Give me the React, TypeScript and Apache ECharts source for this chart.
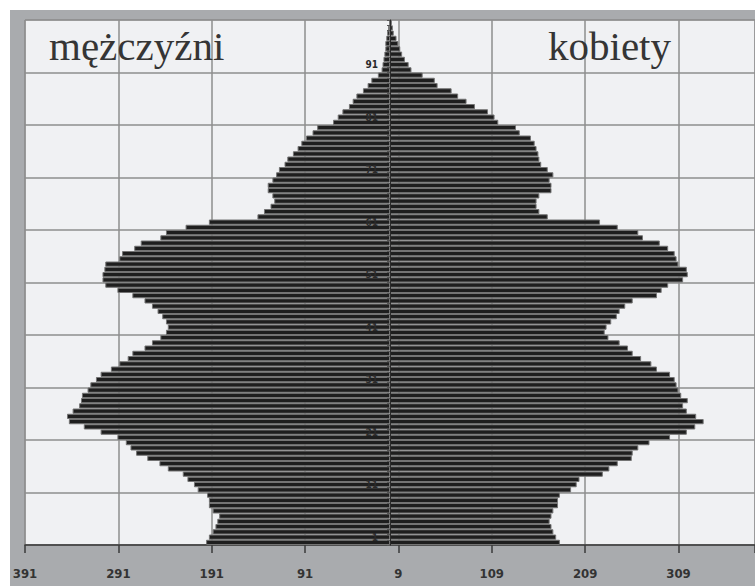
import { useEffect, useRef } from 'react';
import * as echarts from 'echarts';

// Ages 0..99 (bottom to top)
const AGES: string[] = Array.from({ length: 100 }, (_, i) => String(i));

// Men (left side), ages 0..99
const MEN: number[] = [
  197, 194, 190, 187, 185, 183, 190, 194, 194, 196,
  206, 210, 217, 222, 238, 247, 260, 272, 278, 283,
  292, 310, 328, 344, 346, 340, 333, 331, 330, 324,
  321, 315, 310, 299, 290, 281, 276, 263, 255, 246,
  240, 238, 240, 244, 249, 255, 263, 276, 292, 305,
  308, 308, 306, 305, 290, 287, 274, 267, 246, 240,
  219, 194, 142, 135, 128, 124, 126, 131, 131, 126,
  122, 119, 113, 110, 104, 99, 95, 90, 83, 78,
  61, 56, 51, 44, 40, 36, 29, 24, 20, 13,
  9, 8, 7, 6, 5, 5, 4, 3, 2, 1,
];

// Women (right side), ages 0..99
const WOMEN: number[] = [
  182, 178, 175, 173, 171, 173, 175, 180, 180, 182,
  194, 200, 203, 228, 235, 244, 259, 260, 266, 278,
  300, 318, 327, 336, 328, 318, 314, 319, 312, 309,
  307, 305, 300, 286, 280, 269, 260, 255, 246, 234,
  230, 232, 237, 243, 246, 252, 260, 286, 291, 298,
  314, 319, 318, 309, 307, 305, 298, 289, 271, 266,
  244, 225, 169, 160, 157, 157, 160, 173, 173, 171,
  175, 169, 162, 160, 159, 157, 155, 151, 139, 135,
  116, 112, 105, 91, 82, 73, 66, 51, 48, 35,
  23, 20, 16, 13, 11, 9, 7, 4, 3, 2,
];

// Bottom tick labels, left to right
const X_TICK_LABELS: string[] = ['391', '291', '191', '91', '9', '109', '209', '309'];

const LEFT_TITLE = 'mężczyźni';
const RIGHT_TITLE = 'kobiety';

export default function App() {
  const ref = useRef<HTMLDivElement>(null);

  useEffect(() => {
    document.body.style.margin = '0';
    const chart = echarts.init(ref.current!, null, { renderer: 'svg' });
    const gridColor = '#8e8e8e';
    const barStyle = { color: '#1e1e1e', borderColor: '#747474', borderWidth: 1 };
    const titleStyle = {
      fontFamily: '"Liberation Serif", "DejaVu Serif", serif',
      fontSize: 41,
      fontWeight: 'normal' as const,
      color: '#353535',
    };

    chart.setOption({
      animation: false,
      backgroundColor: '#ffffff',
      graphic: [
        {
          type: 'rect',
          z: -100,
          silent: true,
          shape: { x: 10, y: 10, width: 745, height: 576 },
          style: { fill: '#a9abae' },
        },
      ],
      title: [
        { text: LEFT_TITLE, left: 49, top: 25, padding: 0, textStyle: titleStyle },
        { text: RIGHT_TITLE, left: 548, top: 25, padding: 0, textStyle: titleStyle },
      ],
      grid: {
        left: 25,
        top: 20,
        right: 0,
        bottom: 41,
        show: true,
        backgroundColor: '#f0f1f3',
        borderColor: gridColor,
        borderWidth: 1,
        outerBoundsMode: 'none',
      },
      xAxis: [
        {
          type: 'value',
          min: -391,
          max: 391,
          position: 'top',
          axisLine: { show: false, onZero: false },
          axisTick: { show: false },
          axisLabel: { show: false },
          splitLine: { show: false },
        },
        {
          type: 'value',
          min: -400,
          max: 382,
          interval: 100,
          position: 'bottom',
          axisLine: { show: true, onZero: false, lineStyle: { color: '#3a3a3a', width: 1.5 } },
          axisTick: { show: true, length: 8, lineStyle: { color: '#3a3a3a', width: 1.5 } },
          axisLabel: {
            margin: 22,
            fontSize: 13,
            fontWeight: 'bold',
            color: '#333333',
            fontFamily: '"Liberation Sans Narrow", "DejaVu Sans Condensed", sans-serif',
            formatter: (u: number) => {
              const k = (u + 400) / 100;
              if (!Number.isInteger(k)) return '';
              return X_TICK_LABELS[k] ?? '';
            },
          },
          splitLine: { show: true, lineStyle: { color: gridColor, width: 1.5 } },
        },
      ],
      yAxis: [
        {
          type: 'category',
          data: AGES,
          z: 3,
          position: 'left',
          offset: -365,
          axisLine: {
            show: true,
            onZero: false,
            lineStyle: { color: '#2a2a2a', width: 1 },
          },
          axisTick: { show: true, interval: 0, length: 3, lineStyle: { color: '#555555' } },
          axisLabel: {
            interval: (i: number) => i % 10 === 1,
            fontSize: 10,
            fontWeight: 'bold',
            color: '#2a2a2a',
            margin: 12,
            fontFamily: '"Liberation Sans Narrow", "DejaVu Sans Condensed", sans-serif',
          },
          splitLine: { show: false },
        },
        {
          type: 'value',
          min: 0,
          max: 100,
          interval: 10,
          position: 'right',
          axisLine: { show: false, onZero: false },
          axisTick: { show: false },
          axisLabel: { show: false },
          splitLine: { show: true, lineStyle: { color: gridColor, width: 1.5 } },
        },
      ],
      series: [
        {
          type: 'bar',
          name: LEFT_TITLE,
          xAxisIndex: 0,
          yAxisIndex: 0,
          stack: 'pyramid',
          barCategoryGap: '0%',
          data: MEN.map((v) => -v),
          itemStyle: barStyle,
        },
        {
          type: 'bar',
          name: RIGHT_TITLE,
          xAxisIndex: 0,
          yAxisIndex: 0,
          stack: 'pyramid',
          barCategoryGap: '0%',
          data: WOMEN,
          itemStyle: barStyle,
        },
      ],
    });

    return () => chart.dispose();
  }, []);

  return <div ref={ref} style={{ width: 755, height: 586 }} />;
}
